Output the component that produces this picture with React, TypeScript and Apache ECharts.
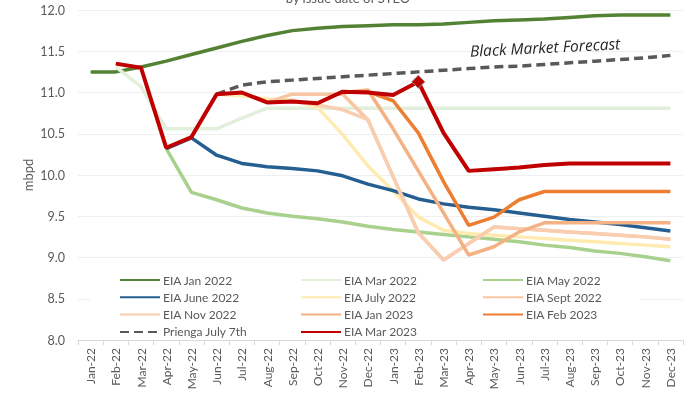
import React, { useEffect, useRef } from "react";
import * as echarts from "echarts";

const categories = [
  "Jan-22", "Feb-22", "Mar-22", "Apr-22", "May-22", "Jun-22", "Jul-22", "Aug-22",
  "Sep-22", "Oct-22", "Nov-22", "Dec-22", "Jan-23", "Feb-23", "Mar-23", "Apr-23",
  "May-23", "Jun-23", "Jul-23", "Aug-23", "Sep-23", "Oct-23", "Nov-23", "Dec-23",
];

const _ = null;
const eiaJan2022 = [11.25, 11.25, 11.31, 11.38, 11.46, 11.54, 11.62, 11.69, 11.75, 11.78, 11.80, 11.81, 11.82, 11.82, 11.83, 11.85, 11.87, 11.88, 11.89, 11.91, 11.93, 11.94, 11.94, 11.94];
const eiaMar2022 = [_, 11.31, 11.07, 10.56, 10.56, 10.56, 10.69, 10.81, 10.81, 10.81, 10.81, 10.81, 10.81, 10.81, 10.81, 10.81, 10.81, 10.81, 10.81, 10.81, 10.81, 10.81, 10.81, 10.81];
const eiaMay2022 = [_, _, _, 10.32, 9.79, 9.70, 9.60, 9.54, 9.50, 9.47, 9.43, 9.38, 9.34, 9.31, 9.28, 9.25, 9.22, 9.19, 9.15, 9.12, 9.08, 9.05, 9.01, 8.96];
const eiaJune2022 = [_, _, _, 10.32, 10.45, 10.24, 10.14, 10.10, 10.08, 10.05, 9.99, 9.89, 9.81, 9.71, 9.65, 9.61, 9.58, 9.54, 9.50, 9.46, 9.43, 9.40, 9.36, 9.32];
const eiaJuly2022 = [_, _, _, _, _, 10.98, 10.96, 10.92, 10.91, 10.82, 10.49, 10.11, 9.81, 9.49, 9.33, 9.29, 9.27, 9.25, 9.23, 9.21, 9.19, 9.17, 9.15, 9.13];
const eiaSept2022 = [_, _, _, _, _, _, _, 10.88, 10.98, 10.98, 10.98, 10.67, 9.98, 9.30, 8.97, 9.17, 9.37, 9.35, 9.33, 9.31, 9.29, 9.27, 9.25, 9.22];
const eiaNov2022 = [_, _, _, _, _, _, _, _, 10.89, 10.85, 10.79, 10.67, 9.98, 9.30, 8.97, 9.17, 9.37, 9.35, 9.33, 9.31, 9.29, 9.27, 9.25, 9.22];
const eiaJan2023 = [_, _, _, _, _, _, _, _, _, _, 11.0, 11.03, 10.56, 10.05, 9.54, 9.03, 9.13, 9.31, 9.42, 9.42, 9.42, 9.42, 9.42, 9.42];
const eiaFeb2023 = [_, _, _, _, _, _, _, _, _, _, 11.0, 11.01, 10.90, 10.51, 9.92, 9.39, 9.49, 9.70, 9.80, 9.80, 9.80, 9.80, 9.80, 9.80];
const prienga = [_, _, _, _, _, 10.98, 11.09, 11.13, 11.15, 11.17, 11.19, 11.21, 11.23, 11.25, 11.27, 11.29, 11.31, 11.32, 11.34, 11.36, 11.38, 11.40, 11.42, 11.45];
const eiaMar2023 = [_, 11.35, 11.30, 10.33, 10.46, 10.98, 11.00, 10.88, 10.89, 10.87, 11.01, 11.00, 10.97, 11.13, 10.51, 10.05, 10.07, 10.09, 10.12, 10.14, 10.14, 10.14, 10.14, 10.14];
const diamondIndex = 13;

const yTicks = { min: 8, max: 12, interval: 0.5 };

const FONT = "Lato";
const GREY = "#595959";

export default function App() {
  const ref = useRef<HTMLDivElement>(null);
  useEffect(() => {
    if (!ref.current) return;
    const chart = echarts.init(ref.current, undefined, { renderer: "svg" });
    const line = (name: string, data: any[], color: string, width = 3.5, extra: any = {}) => ({
      name,
      type: "line",
      data,
      symbol: "none",
      showSymbol: true,
      lineStyle: { color, width, ...(extra.lineStyle || {}) },
      itemStyle: { color },
      emphasis: { disabled: true },
      z: extra.z ?? 2,
    });
    const redData = eiaMar2023.map((v, i) =>
      i === diamondIndex
        ? { value: v, symbol: "diamond", symbolSize: 13, itemStyle: { color: "#C00000", borderColor: "#8C8C8C", borderWidth: 1 } }
        : v
    );
    const legendBase = {
      orient: "vertical",
      top: 268,
      itemWidth: 40,
      itemHeight: 14,
      itemGap: 3.3,
      itemStyle: { opacity: 0 },
      textStyle: { color: GREY, fontSize: 12, fontFamily: FONT, lineHeight: 14, padding: [0, 0, 0, -2] },
      selectedMode: false,
    };
    const option: any = {
      animation: false,
      grid: { left: 78, right: 17, top: 10, bottom: 54 },
      xAxis: {
        type: "category",
        data: categories,
        boundaryGap: true,
        axisLine: { lineStyle: { color: "#D9D9D9" } },
        axisTick: { show: true, length: 5, lineStyle: { color: "#D9D9D9" } },
        axisLabel: { rotate: 90, color: GREY, fontSize: 12, fontFamily: FONT, margin: 8, interval: 0 },
      },
      yAxis: {
        type: "value",
        min: yTicks.min,
        max: yTicks.max,
        interval: yTicks.interval,
        axisLine: { show: false },
        axisTick: { show: false },
        axisLabel: { formatter: (v: number) => v.toFixed(1), color: GREY, fontSize: 12.5, fontFamily: FONT, margin: 13 },
        splitLine: { lineStyle: { color: "#EFEFEF" } },
      },
      legend: [
        { ...legendBase, left: 114, data: ["EIA Jan 2022", "EIA June 2022", "EIA Nov 2022", "Prienga July 7th"] },
        { ...legendBase, left: 295, data: ["EIA Mar 2022", "EIA July 2022", "EIA Jan 2023", "EIA Mar 2023"] },
        { ...legendBase, left: 477, data: ["EIA May 2022", "EIA Sept 2022", "EIA Feb 2023"] },
      ],
      graphic: [
        { type: "rect", z: 1, shape: { x: 90, y: 266, width: 550, height: 71 }, style: { fill: "#FFFFFF" }, silent: true },
        {
          type: "text", x: 348, y: 4, z: 5,
          style: { text: "by issue date of STEO", fill: GREY, font: `13px ${FONT}`, textAlign: "center", textVerticalAlign: "bottom" },
        },
        {
          type: "text", x: 28, y: 175, rotation: Math.PI / 2, z: 5,
          style: { text: "mbpd", fill: GREY, font: `13px ${FONT}`, textAlign: "center", textVerticalAlign: "middle" },
        },
        {
          type: "text", x: 545, y: 47, rotation: 0.05, z: 5,
          style: { text: "Black Market Forecast", fill: "#262626", font: `italic 15.5px 'Open Sans'`, textAlign: "center", textVerticalAlign: "middle" },
        },
      ],
      series: [
        line("EIA Jan 2022", eiaJan2022, "#548235", 3.5),
        line("EIA Mar 2022", eiaMar2022, "#E2EFDA"),
        line("EIA May 2022", eiaMay2022, "#A9D18E"),
        line("EIA July 2022", eiaJuly2022, "#FFEBB0"),
        line("EIA June 2022", eiaJune2022, "#255E91"),
        line("EIA Sept 2022", eiaSept2022, "#F8C6A4"),
        line("EIA Nov 2022", eiaNov2022, "#F9CDB0"),
        line("EIA Jan 2023", eiaJan2023, "#F4B183"),
        line("EIA Feb 2023", eiaFeb2023, "#ED7D31"),
        line("Prienga July 7th", prienga, "#595959", 3.5, { lineStyle: { type: [9, 5] } }),
        line("EIA Mar 2023", redData, "#C00000", 4, { z: 3 }),
      ],
    };
    chart.setOption(option);
    return () => chart.dispose();
  }, []);
  return <div ref={ref} style={{ position: "fixed", left: 0, top: 0, width: 700, height: 394 }} />;
}
